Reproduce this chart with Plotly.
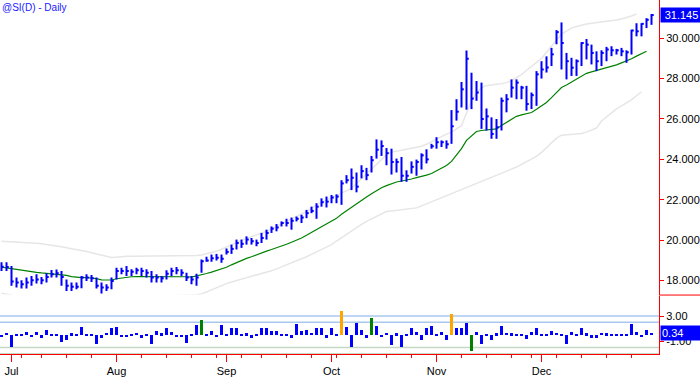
import pandas as pd
import plotly.graph_objects as go

# ---------------- data ----------------
holidays = ["2010-07-05", "2010-09-06", "2010-11-25"]
dates = [d for d in pd.bdate_range("2010-06-29", "2010-12-31") if d.strftime("%Y-%m-%d") not in holidays]

highs = [18.91, 18.91, 18.72, 18.15, 18.02, 18.15, 18.23, 18.31, 18.18, 18.36,
         18.52, 18.55, 18.47, 18.06, 17.90, 17.90, 18.23, 18.31, 18.28, 18.15,
         17.90, 17.82, 18.15, 18.64, 18.64, 18.72, 18.56, 18.64, 18.64, 18.56,
         18.47, 18.31, 18.23, 18.51, 18.64, 18.67, 18.56, 18.39, 18.23, 18.34,
         19.05, 19.18, 19.29, 19.32, 19.29, 19.59, 19.78, 20.03, 20.03, 20.19,
         20.11, 20.03, 20.36, 20.52, 20.68, 20.80, 20.93, 21.06, 21.12, 21.17,
         21.26, 21.50, 21.66, 21.83, 22.07, 22.16, 22.24, 22.27, 22.97, 23.22,
         23.55, 23.35, 23.71, 23.58, 24.17, 24.99, 24.94, 24.56, 24.53, 24.04,
         24.12, 23.46, 23.90, 23.99, 24.30, 24.50, 24.77, 25.10, 24.94, 24.94,
         26.44, 26.98, 27.83, 29.39, 28.29, 27.88, 27.80, 26.52, 26.08, 26.00,
         27.06, 27.23, 27.96, 27.96, 27.64, 27.64, 27.31, 28.37, 28.86, 29.10,
         29.52, 30.40, 30.78, 29.27, 29.03, 28.95, 29.80, 29.96, 29.68, 29.35,
         29.40, 29.57, 29.60, 29.47, 29.52, 29.40, 30.42, 30.74, 30.74, 30.99,
         31.20]
lows = [18.47, 18.47, 17.74, 17.66, 17.61, 17.61, 17.74, 17.85, 17.82, 17.90,
        18.15, 18.15, 17.74, 17.49, 17.49, 17.57, 17.62, 17.98, 17.93, 17.61,
        17.36, 17.49, 17.57, 18.06, 18.31, 18.23, 18.23, 18.31, 18.23, 18.15,
        17.90, 17.90, 17.90, 18.06, 18.23, 18.31, 18.23, 17.98, 17.82, 17.74,
        18.39, 18.93, 18.93, 19.00, 18.88, 19.29, 19.32, 19.54, 19.62, 19.78,
        19.78, 19.70, 19.86, 20.03, 20.36, 20.44, 20.68, 20.68, 20.52, 20.93,
        20.85, 21.09, 21.34, 21.06, 21.66, 21.62, 21.83, 21.83, 21.75, 22.81,
        22.48, 22.37, 23.06, 22.97, 23.35, 24.04, 24.17, 23.71, 23.25, 23.35,
        22.89, 22.89, 23.30, 23.19, 23.50, 23.80, 24.53, 24.53, 24.61, 24.53,
        24.77, 25.92, 26.57, 26.46, 26.49, 26.90, 25.51, 25.43, 25.02, 25.02,
        25.43, 26.33, 27.06, 26.98, 26.98, 26.41, 26.49, 26.65, 28.00, 28.30,
        28.62, 29.70, 28.45, 27.96, 28.13, 28.13, 28.62, 28.95, 28.70, 28.37,
        28.62, 28.86, 29.11, 29.19, 29.11, 28.78, 29.19, 30.09, 30.09, 30.50,
        30.66]
closes = [18.69, 18.67, 17.95, 17.90, 17.82, 17.90, 18.02, 18.06, 18.02, 18.18,
          18.31, 18.36, 18.18, 17.74, 17.69, 17.69, 18.15, 18.15, 18.11, 17.74,
          17.66, 17.66, 17.98, 18.47, 18.47, 18.47, 18.44, 18.51, 18.47, 18.39,
          18.15, 18.15, 18.11, 18.34, 18.47, 18.51, 18.39, 18.15, 18.06, 18.15,
          18.96, 18.99, 19.10, 19.13, 19.08, 19.42, 19.57, 19.86, 19.82, 20.03,
          19.95, 19.86, 20.11, 20.36, 20.57, 20.63, 20.85, 20.85, 20.96, 21.06,
          21.12, 21.34, 21.45, 21.66, 21.88, 21.91, 22.11, 22.16, 22.81, 22.97,
          23.09, 22.65, 23.42, 23.22, 23.96, 24.48, 24.66, 24.31, 23.87, 23.87,
          23.19, 23.19, 23.63, 23.87, 24.20, 24.00, 24.65, 24.85, 24.85, 24.75,
          25.64, 26.36, 27.47, 28.98, 27.01, 27.31, 26.00, 26.13, 25.26, 25.59,
          26.90, 26.98, 27.55, 27.80, 27.55, 26.74, 27.18, 28.21, 28.45, 28.55,
          29.20, 30.30, 29.76, 28.86, 28.54, 28.86, 29.76, 29.68, 29.27, 28.86,
          29.27, 29.44, 29.40, 29.40, 29.35, 29.30, 30.38, 30.34, 30.71, 30.91,
          31.145]

ma = [18.67, 18.63, 18.58, 18.54, 18.51, 18.48, 18.44, 18.41, 18.38, 18.36,
      18.34, 18.31, 18.29, 18.26, 18.20, 18.16, 18.15, 18.15, 18.14, 18.10,
      18.04, 18.02, 18.03, 18.09, 18.13, 18.17, 18.19, 18.20, 18.20, 18.20,
      18.20, 18.20, 18.20, 18.21, 18.22, 18.22, 18.21, 18.19, 18.17, 18.22,
      18.29, 18.35, 18.42, 18.49, 18.56, 18.66, 18.78, 18.90, 19.00, 19.10,
      19.18, 19.28, 19.37, 19.46, 19.54, 19.62, 19.71, 19.80, 19.90, 20.00,
      20.11, 20.24, 20.38, 20.52, 20.64, 20.78, 20.91, 21.08, 21.28, 21.46,
      21.62, 21.80, 21.97, 22.14, 22.30, 22.45, 22.60, 22.70, 22.80, 22.88,
      22.93, 22.97, 23.03, 23.10, 23.15, 23.22, 23.30, 23.42, 23.55, 23.70,
      23.90, 24.20, 24.53, 24.94, 25.18, 25.38, 25.43, 25.46, 25.48, 25.51,
      25.68, 25.83, 25.98, 26.13, 26.20, 26.26, 26.32, 26.48, 26.65, 26.82,
      27.06, 27.30, 27.56, 27.68, 27.82, 27.98, 28.13, 28.26, 28.33, 28.40,
      28.45, 28.52, 28.60, 28.68, 28.78, 28.87, 28.98, 29.11, 29.23, 29.35,
      None]
upper = [19.95, 19.94, 19.93, 19.91, 19.90, 19.88, 19.86, 19.85, 19.82, 19.79,
         19.76, 19.72, 19.67, 19.62, 19.58, 19.54, 19.50, 19.44, 19.38, 19.32,
         19.25, 19.17, 19.14, 19.16, 19.19, 19.20, 19.21, 19.21, 19.21, 19.21,
         19.21, 19.21, 19.21, 19.21, 19.21, 19.21, 19.21, 19.21, 19.22, 19.24,
         19.27, 19.32, 19.38, 19.45, 19.55, 19.65, 19.76, 19.88, 20.00, 20.08,
         20.17, 20.26, 20.35, 20.44, 20.56, 20.68, 20.80, 20.92, 21.03, 21.15,
         21.26, 21.42, 21.58, 21.75, 21.87, 21.99, 22.10, 22.21, 22.33, 22.45,
         22.56, 22.81, 23.05, 23.28, 23.48, 23.74, 23.98, 24.22, 24.36, 24.42,
         24.45, 24.50, 24.55, 24.60, 24.65, 24.75, 24.88, 25.02, 25.12, 25.25,
         25.35, 25.50, 25.67, 26.30, 26.90, 27.30, 27.55, 27.65, 27.70, 27.72,
         27.75, 27.80, 27.90, 28.05, 28.20, 28.40, 28.60, 28.80, 29.00, 29.30,
         29.60, 29.93, 30.20, 30.35, 30.50, 30.58, 30.65, 30.70, 30.74, 30.77,
         30.80, 30.82, 30.85, 30.90, 30.95, 31.02, 31.10, 31.20, None, None,
         None]
lower = [17.38, 17.33, 17.25, 17.20, 17.15, 17.12, 17.10, 17.08, 17.05, 17.02,
         17.00, 16.98, 16.96, 16.95, 16.95, 16.96, 16.98, 17.00, 17.02, 17.03,
         17.04, 17.05, 17.06, 17.07, 17.08, 17.10, 17.12, 17.15, 17.17, 17.18,
         17.19, 17.20, 17.21, 17.22, 17.23, 17.24, 17.25, 17.26, 17.28, 17.30,
         17.34, 17.45, 17.56, 17.66, 17.76, 17.85, 17.93, 18.00, 18.07, 18.12,
         18.18, 18.25, 18.32, 18.39, 18.49, 18.58, 18.68, 18.78, 18.88, 18.97,
         19.05, 19.18, 19.30, 19.42, 19.54, 19.66, 19.78, 19.96, 20.13, 20.30,
         20.47, 20.63, 20.78, 20.93, 21.06, 21.19, 21.31, 21.42, 21.45, 21.48,
         21.50, 21.53, 21.56, 21.60, 21.70, 21.80, 21.90, 22.00, 22.10, 22.20,
         22.30, 22.40, 22.50, 22.60, 22.70, 22.80, 22.90, 23.00, 23.10, 23.20,
         23.30, 23.40, 23.50, 23.62, 23.75, 23.88, 24.00, 24.15, 24.35, 24.60,
         24.85, 25.05, 25.20, 25.22, 25.22, 25.25, 25.28, 25.35, 25.45, 25.55,
         25.90, 26.10, 26.30, 26.50, 26.65, 26.80, 26.95, 27.15, 27.35, None,
         None]

osc = [-0.3, 0.4, -1.9, 0.15, 0.15, 0.6, -0.2, 0.6, -0.5, 0.9,
       0.15, 0.15, -1.1, -0.7, 0.3, 0.15, 1.3, 0.15, 0.15, -1.4,
       -0.4, 0.4, 1.2, 1.3, -0.15, -0.15, 0.15, 0.4, -0.4, 0.15,
       -1.4, 0.7, 0.3, 1.1, 0.5, -0.3, -0.2, -1.2, 0.15, 1.7,
       2.5, 0.15, 0.7, -0.2, 1.7, 0.15, 1.2, 1.2, 0.15, 0.3,
       -0.4, 0.15, 1.2, 1.1, 0.7, 0.7, 0.15, 0.15, -0.5, 1.8,
       0.7, 0.8, 0.4, 1.2, 1.2, -0.5,
       1.2, 0.15, 3.9, 1.4, -1.8, 1.95, 0.9, -0.5, 2.8, 1.5,
       -0.2, 0.4, -1.6, 0.3, -1.8, 0.15, 1.1, 0.6, -0.8, 1.1,
       1.5, 0.15, 0.6, -0.7, 3.4, 1.2, 1.1, 1.98, -2.5, 0.6,
       -1.4, 0.15, -0.8, 0.3, 1.5, 0.4, 0.3, 0.15, 0.15, -0.6,
       0.5, 1.1, 0.15, 0.15, 0.7, 0.4, 0.15, -1.4, 0.6, 0.15,
       1.2, 0.3, -0.5, -0.5, 0.4, 0.3, 0.15, 0.15, 0.15, 0.15,
       1.8, 0.6, -0.2, 0.8, 0.34]

price_ticks = [18, 20, 22, 24, 26, 28, 30]
osc_ticks = [3, -1]
osc_levels = [3, 2, -2, -3]
title_text = "@SI(D) - Daily"

# ---------------- derived positions ----------------
n = len(dates)
xs = list(range(n))
month_idx = [i for i in range(1, n) if dates[i].month != dates[i - 1].month]
month_lbl = [dates[i].strftime("%b") for i in month_idx]
week_idx = [i for i in range(1, n) if dates[i].isocalendar()[1] != dates[i - 1].isocalendar()[1]]

BLUE = "#0000ff"
RED = "#ff0000"
FONT = "Liberation Sans, Arial, sans-serif"

# HLC bars as line segments
bx, by = [], []
for i in xs:
    bx += [i, i, None, i, i + 0.45, None]
    by += [lows[i], highs[i], None, closes[i], closes[i], None]

fig = go.Figure()
fig.add_trace(go.Scatter(x=xs, y=upper, mode="lines", line=dict(color="#e6e6e6", width=1.5),
                         hoverinfo="skip", yaxis="y"))
fig.add_trace(go.Scatter(x=xs, y=lower, mode="lines", line=dict(color="#e6e6e6", width=1.5),
                         hoverinfo="skip", yaxis="y"))
fig.add_trace(go.Scatter(x=xs, y=ma, mode="lines", line=dict(color="#008000", width=1.2),
                         yaxis="y"))
fig.add_trace(go.Scatter(x=bx, y=by, mode="lines", line=dict(color=BLUE, width=2), yaxis="y"))

def bar_color(v):
    if v >= 3:
        return "#ffa500"
    if abs(v) >= 2:
        return "#008000"
    return BLUE

fig.add_trace(go.Bar(x=xs, y=osc, width=0.42, marker=dict(color=[bar_color(v) for v in osc], line=dict(width=0)),
                     yaxis="y2"))

shapes = []
for lv in osc_levels:
    shapes.append(dict(type="line", xref="paper", x0=0, x1=1, yref="y2", y0=lv, y1=lv,
                       line=dict(color="#a8c8f0" if lv > 0 else "#c4d8c4", width=1.5), layer="below"))
# separator in right margin
shapes.append(dict(type="line", xref="paper", x0=1, x1=1.07, yref="paper", y0=0.1665, y1=0.1665,
                   line=dict(color=RED, width=1)))

fig.update_layout(
    width=700, height=377,
    margin=dict(l=0, r=41, t=0, b=20),
    paper_bgcolor="white", plot_bgcolor="white",
    showlegend=False, bargap=0,
    font=dict(family=FONT, size=11, color="#000000"),
    xaxis=dict(domain=[0, 1], anchor="y2", range=[-0.3, 131.5], showgrid=False, zeroline=False,
               showline=True, linecolor=RED, linewidth=1,
               tickmode="array", tickvals=month_idx, ticktext=month_lbl,
               ticks="outside", ticklen=7, tickcolor=RED, tickwidth=1,
               tickfont=dict(family=FONT, size=11, color="#000000"),
               minor=dict(tickmode="array", tickvals=week_idx, ticks="outside", ticklen=3,
                          tickcolor=RED, tickwidth=1, showgrid=False)),
    yaxis=dict(domain=[0.168, 1], anchor="x", side="right", range=[17.31, 31.89],
               showgrid=False, zeroline=False, showline=True, linecolor=RED, linewidth=1,
               tickmode="array", tickvals=price_ticks, ticktext=["%.3f" % v for v in price_ticks],
               ticks="outside", ticklen=4, tickcolor=RED,
               tickfont=dict(family=FONT, size=11, color="#000000")),
    yaxis2=dict(domain=[0, 0.165], anchor="x", side="right", range=[-3.05, 6.27],
                showgrid=False, zeroline=False, showline=True, linecolor=RED, linewidth=1,
                tickmode="array", tickvals=osc_ticks, ticktext=["%.2f" % v for v in osc_ticks],
                ticks="outside", ticklen=4, tickcolor=RED,
                tickfont=dict(family=FONT, size=11, color="#000000")),
    shapes=shapes,
    annotations=[
        dict(text=title_text, xref="paper", yref="paper", x=0, y=1, xanchor="left", yanchor="top",
             showarrow=False, font=dict(family=FONT, size=10, color="#1a1aff"), xshift=0, yshift=0),
        dict(text="%.3f" % closes[-1], xref="paper", yref="y", x=1, y=closes[-1], xanchor="left",
             yanchor="middle", showarrow=False, bgcolor=BLUE, font=dict(family=FONT, size=11, color="white"),
             width=39, height=12, align="center", xshift=1),
        dict(text="%.2f" % osc[-1], xref="paper", yref="y2", x=1, y=osc[-1], xanchor="left",
             yanchor="middle", showarrow=False, bgcolor=BLUE, font=dict(family=FONT, size=11, color="white"),
             width=39, height=12, align="left", xshift=1),
    ],
)

fig.write_html("out.html", config={"displayModeBar": False},
               post_script="document.body.style.margin='0';document.body.style.overflow='hidden';")
